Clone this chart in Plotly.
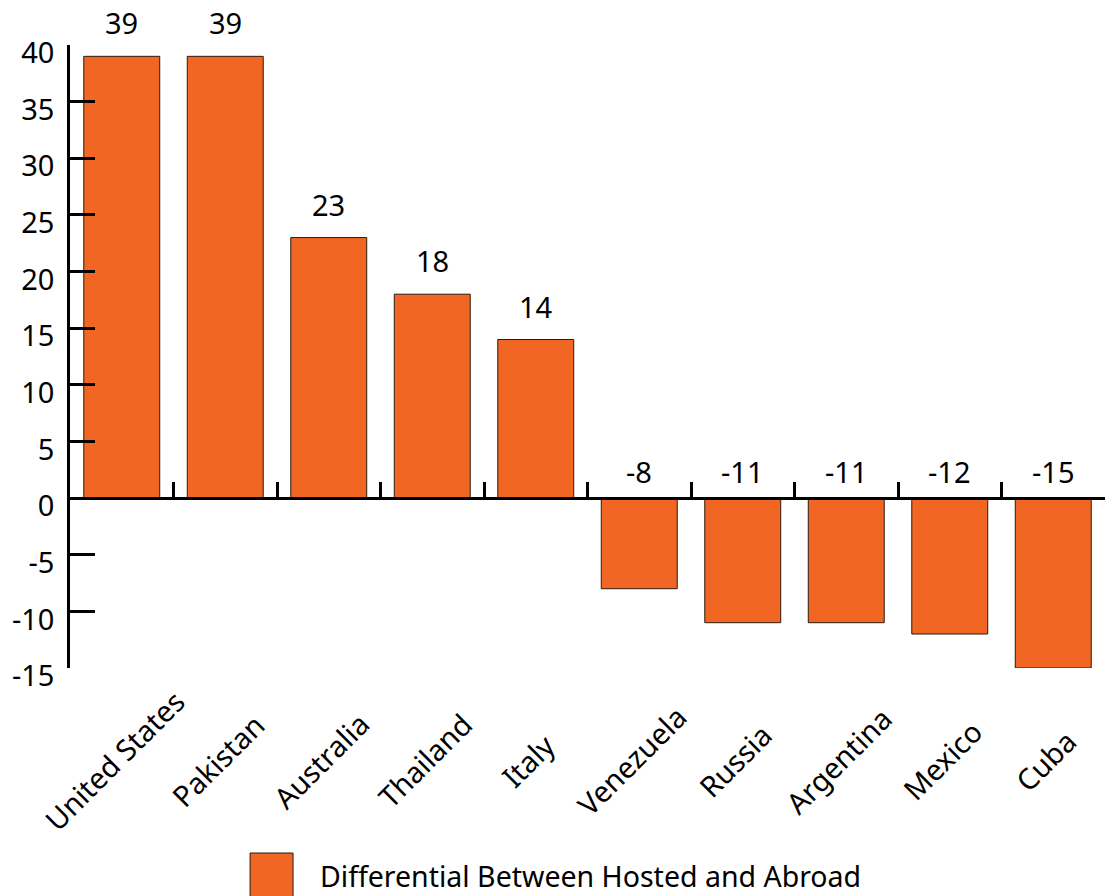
import plotly.graph_objects as go

# Differential between hosted and abroad, by country
countries = ["United States", "Pakistan", "Australia", "Thailand", "Italy",
             "Venezuela", "Russia", "Argentina", "Mexico", "Cuba"]
differential = [39, 39, 23, 18, 14, -8, -11, -11, -12, -15]
series_name = "Differential Between Hosted and Abroad"
y_ticks = [-15, -10, -5, 0, 5, 10, 15, 20, 25, 30, 35, 40]
y_tick_labels = [str(t) for t in y_ticks]  # plain hyphen for negatives

BAR_COLOR = "#F26624"
FONT = "Noto Sans"
Y_MIN, Y_MAX = -15, 40

fig = go.Figure()
fig.add_trace(go.Bar(
    x=countries,
    y=differential,
    name=series_name,
    marker=dict(color=BAR_COLOR, line=dict(color="#2a1a10", width=1)),
    showlegend=False,
))

# value labels: above the bar for positives, above the zero line for negatives
for c, v in zip(countries, differential):
    fig.add_annotation(
        x=c, y=max(v, 0), xref="x", yref="y",
        text=str(v), showarrow=False,
        yanchor="bottom", yshift=12 if v > 0 else 5,
        font=dict(family=FONT, size=29, color="black"),
    )

# category labels, rotated about their centre below the plot
for c in countries:
    fig.add_annotation(
        x=c, y=-0.148, xref="x", yref="paper",
        text=c, showarrow=False, textangle=-45,
        xanchor="center", yanchor="middle", xshift=-8,
        font=dict(family=FONT, size=29, color="black"),
    )

# legend key
fig.add_shape(type="rect", xref="paper", yref="paper",
              x0=0.174, x1=0.2155, y0=-0.297, y1=-0.37,
              fillcolor=BAR_COLOR, line=dict(color="#2a1a10", width=1))
fig.add_annotation(
    x=0.2396, y=-0.334, xref="paper", yref="paper",
    text=series_name, showarrow=False, xanchor="left", yanchor="middle",
    font=dict(family=FONT, size=28.5, color="black"),
)

fig.update_layout(
    width=1107, height=896,
    margin=dict(l=70, r=2, t=45, b=228),
    plot_bgcolor="white", paper_bgcolor="white",
    bargap=0.266,
    font=dict(family=FONT, color="black"),
    xaxis=dict(
        type="category",
        anchor="free",
        position=(0 - Y_MIN) / (Y_MAX - Y_MIN),
        showline=True, linecolor="black", linewidth=2.5,
        ticks="inside", tickson="boundaries", ticklen=15,
        tickwidth=2.5, tickcolor="black",
        showticklabels=False, showgrid=False, zeroline=False,
        range=[-0.5, len(countries) - 0.5],
    ),
    yaxis=dict(
        range=[Y_MIN, Y_MAX],
        tickvals=y_ticks,
        ticktext=y_tick_labels,
        showline=True, linecolor="black", linewidth=2.5,
        ticks="inside", ticklen=25, tickwidth=2.5, tickcolor="black",
        showgrid=False, zeroline=False,
        tickfont=dict(family=FONT, size=29, color="black"),
        ticklabelstandoff=7,
        ticklabelshift=8,
    ),
)

fig.write_html("out.html")
